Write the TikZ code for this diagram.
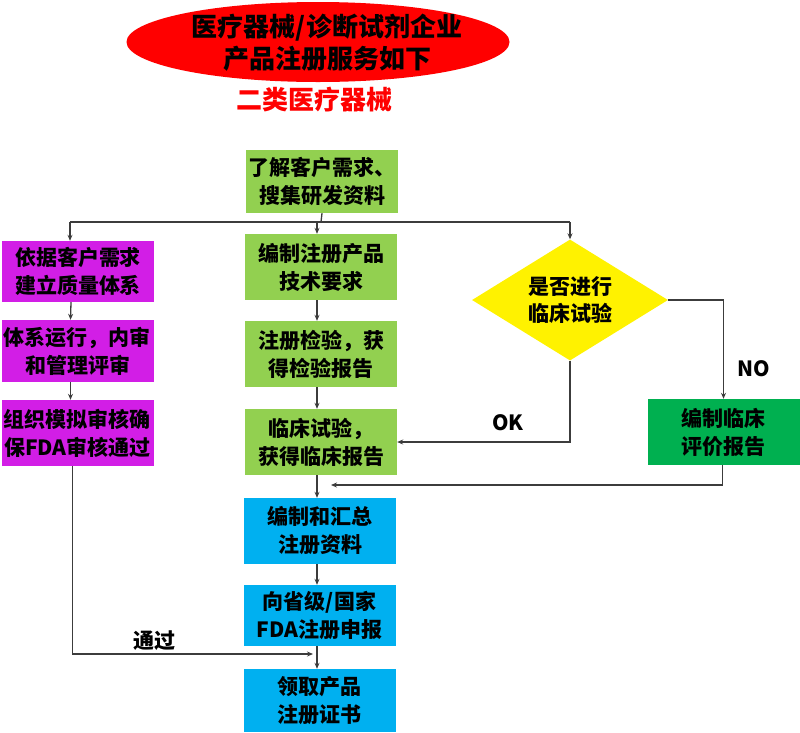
\documentclass[tikz,border=0pt]{standalone}
\usepackage{fontspec}
\setmainfont{Noto Sans CJK SC}
\usetikzlibrary{shapes.geometric,arrows.meta}

\definecolor{leafgreen}{RGB}{146,208,80}
\definecolor{skyblue}{RGB}{0,176,240}
\definecolor{orchid}{RGB}{210,30,230}
\definecolor{grassgreen}{RGB}{0,176,80}
\definecolor{wire}{RGB}{60,60,60}

\tikzset{
  box/.style={rectangle, minimum width=152pt, minimum height=64pt, inner sep=0pt,
    align=center, font=\fontsize{21}{28}\selectfont\bfseries},
  arr/.style={draw=wire, line width=1.3pt, -{Stealth[length=6pt,width=5pt]}},
  line/.style={draw=wire, line width=1.3pt},
  lbl/.style={font=\fontsize{21}{24}\selectfont\bfseries, inner sep=1pt}
}

\begin{document}
\begin{tikzpicture}[x=1pt,y=-1pt]
\useasboundingbox (0,0) rectangle (800,732);

% title
\node[ellipse, fill=red, minimum width=383pt, minimum height=80pt, inner sep=0pt] (title) at (318,42) {};
\node[align=center, font=\fontsize{26}{32}\selectfont\bfseries] (titletext) at (327,43) {医疗器械/诊断试剂企业\\产品注册服务如下};
\node[text=red, font=\fontsize{26}{28}\selectfont\bfseries] (kind) at (314,100) {二类医疗器械};

% middle column
\node[box, fill=leafgreen, minimum height=63pt] (box1) at (322,181.5) {了解客户需求、\\搜集研发资料};
\node[box, fill=leafgreen, minimum height=66pt] (box2) at (321,267) {编制注册产品\\技术要求};
\node[box, fill=leafgreen, minimum height=66pt] (box3) at (321,354) {注册检验，获\\得检验报告};
\node[box, fill=leafgreen, minimum height=66pt] (box4) at (321,442) {临床试验，\\获得临床报告};
\node[box, fill=skyblue, minimum height=66pt] (box5) at (320,531) {编制和汇总\\注册资料};
\node[box, fill=skyblue, minimum height=61pt] (box6) at (319.5,615.5) {向省级/国家\\FDA注册申报};
\node[box, fill=skyblue, minimum height=63pt] (box7) at (319.5,700.5) {领取产品\\注册证书};

% left column
\node[box, fill=orchid, minimum height=61pt] (sys1) at (78,271.5) {依据客户需求\\建立质量体系};
\node[box, fill=orchid, minimum height=62pt] (sys2) at (77.5,351) {体系运行，内审\\和管理评审};
\node[box, fill=orchid, minimum height=66pt] (sys3) at (77.5,433) {组织模拟审核确\\保FDA审核通过};

% right side
\node[diamond, fill=yellow, minimum width=196pt, minimum height=121pt, inner sep=0pt,
  aspect=1.6, align=center, font=\fontsize{21}{27}\selectfont\bfseries] (clin) at (570,300) {是否进行\\临床试验};
\node[box, fill=grassgreen, minimum height=66pt] (eval) at (723.5,432) {编制临床\\评价报告};

\coordinate (hub) at (321,222);
\coordinate (col) at (317,0);
\coordinate (join) at (331,485);
\coordinate (pass) at (313,654);

\draw[line] (box1.south) -- (hub);
\draw[line] ([xshift=-8pt]sys1.north |- hub) -- (clin.north |- hub);
\draw[arr] (hub -| col) -- (box2.north -| col);
\draw[arr] ([xshift=-8pt]sys1.north |- hub) -- ([xshift=-8pt]sys1.north);
\draw[arr] (clin.north |- hub) -- (clin.north);

\foreach \a/\b in {box2/box3,box3/box4,box4/box5,box5/box6,box6/box7}
  \draw[arr] (\a.south -| col) -- (\b.north -| col);
\foreach \a/\b in {sys1/sys2,sys2/sys3}
  \draw[arr] ([xshift=-7pt]\a.south) -- ([xshift=-7pt]\b.north);

\draw[arr] (clin.south) |- (box4.east) node[lbl, pos=0.68, above=10pt] {OK};
\draw[arr] (clin.east) -| (eval.north) node[lbl, pos=0.85, right=12pt] {NO};
\draw[arr] ([xshift=-1pt]eval.south) |- (join);
\draw[arr] ([xshift=-5pt]sys3.south) |- (pass) node[lbl, pos=0.67, above=2pt] {通过};
\end{tikzpicture}
\end{document}
